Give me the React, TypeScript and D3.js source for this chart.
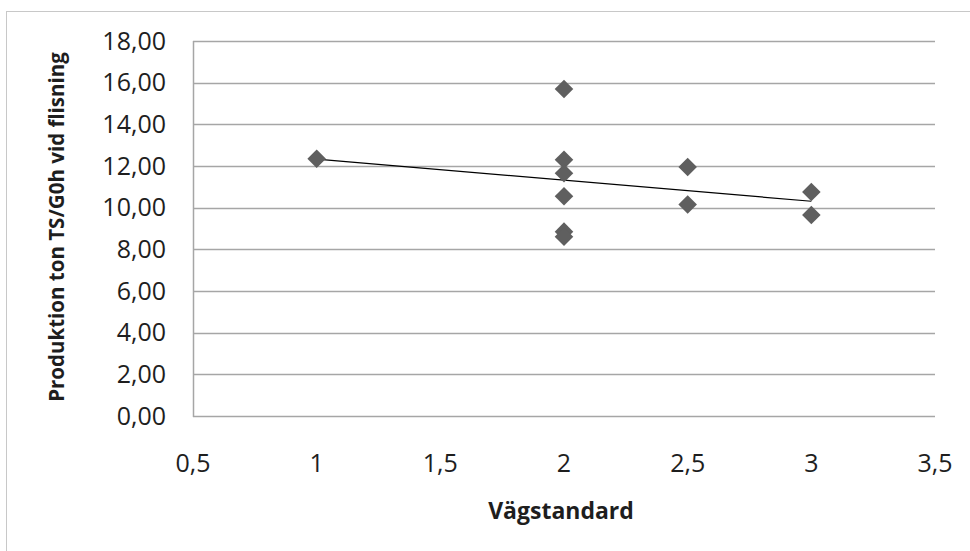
import React from "react";
import * as d3 from "d3";

const xValues = [1, 2, 2, 2, 2, 2, 2, 2.5, 2.5, 3, 3];
const yValues = [12.35, 15.7, 12.3, 11.65, 10.55, 8.85, 8.6, 11.95, 10.15, 10.75, 9.65];
const xTicks = [0.5, 1, 1.5, 2, 2.5, 3, 3.5];
const yTicks = [0, 2, 4, 6, 8, 10, 12, 14, 16, 18];
const xTitle = "Vägstandard";
const yTitle = "Produktion ton TS/G0h vid flisning";

const W = 970;
const H = 551;
const left = 193;
const right = 935;
const top = 41;
const bottom = 416;

export default function App() {
  const x = d3.scaleLinear().domain([0.5, 3.5]).range([left, right]);
  const y = d3.scaleLinear().domain([0, 18]).range([bottom, top]);

  const mx = d3.mean(xValues) as number;
  const my = d3.mean(yValues) as number;
  let sxy = 0;
  let sxx = 0;
  xValues.forEach((xv, i) => {
    sxy += (xv - mx) * (yValues[i] - my);
    sxx += (xv - mx) * (xv - mx);
  });
  const slope = sxy / sxx;
  const intercept = my - slope * mx;
  const [xmin, xmax] = d3.extent(xValues) as [number, number];
  const trend = d3.line<number>()
    .x((d) => x(d))
    .y((d) => y(intercept + slope * d))([xmin, xmax]);

  const fmt = (v: number) => v.toFixed(2).replace(".", ",");
  const fmtX = (v: number) => String(v).replace(".", ",");
  const diamond = d3.symbol().type(d3.symbolDiamond2).size(220)();

  const font = "'Open Sans', sans-serif";

  return (
    <svg
      width={W}
      height={H}
      style={{ position: "absolute", left: 0, top: 0, background: "#fff" }}
    >
      <rect x={6.5} y={11.5} width={1000} height={1000} fill="#fff" stroke="#c8c8c8" strokeWidth={1} />
      {yTicks.map((t) => (
        <line key={"g" + t} x1={left} x2={right} y1={Math.round(y(t)) + 0.5} y2={Math.round(y(t)) + 0.5}
          stroke="#a6a6a6" strokeWidth={1.5} />
      ))}
      <line x1={left + 0.5} x2={left + 0.5} y1={top} y2={bottom + 1} stroke="#a6a6a6" strokeWidth={1.5} />
      {yTicks.map((t) => (
        <text key={"yt" + t} x={166} y={y(t)} dy="0.35em" textAnchor="end"
          fontFamily={font} fontSize={25} fill="#1e1e1e">{fmt(t)}</text>
      ))}
      {xTicks.map((t) => (
        <text key={"xt" + t} x={x(t)} y={463} dy="0.35em" textAnchor="middle"
          fontFamily={font} fontSize={25} fill="#1e1e1e">{fmtX(t)}</text>
      ))}
      <path d={trend || ""} fill="none" stroke="#000" strokeWidth={1.2} />
      {xValues.map((xv, i) => (
        <path key={"p" + i} d={diamond || ""} transform={`translate(${x(xv)},${y(yValues[i])})`}
          fill="#5f5f5f" />
      ))}
      <text x={561} y={511} dy="0.35em" textAnchor="middle" fontFamily={font} fontSize={23}
        fontWeight="bold" fill="#1e1e1e">{xTitle}</text>
      <text transform={`translate(57,227) rotate(-90)`} dy="0.35em" textAnchor="middle"
        fontFamily={font} fontSize={20.5} fontWeight="bold" fill="#1e1e1e">{yTitle}</text>
    </svg>
  );
}
